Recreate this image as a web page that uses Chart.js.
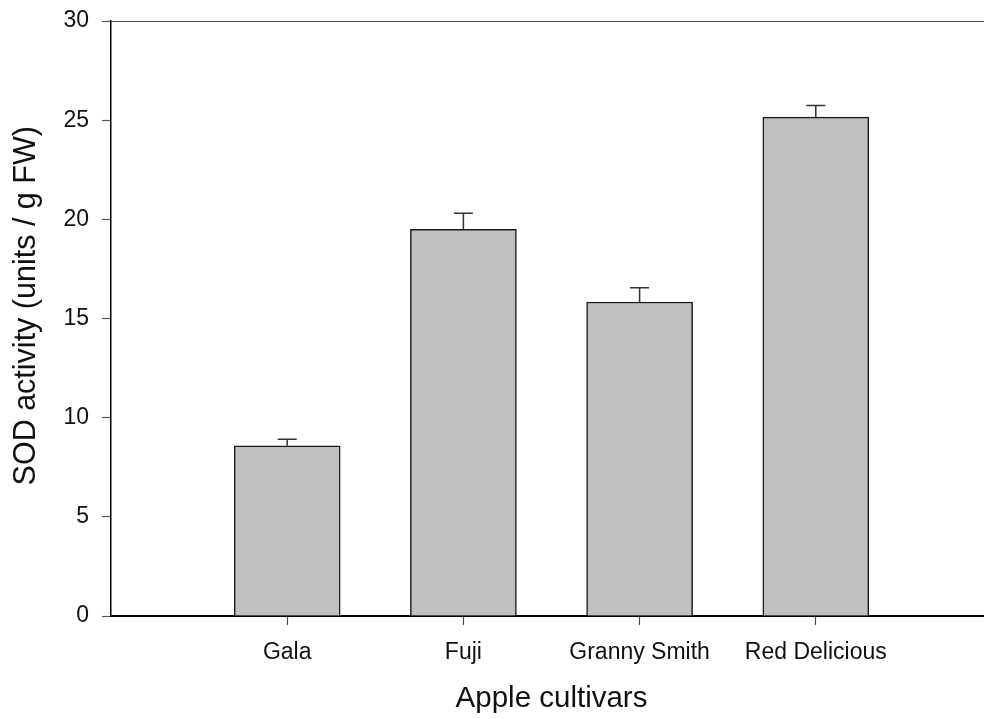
<!DOCTYPE html>
<html>
<head>
<meta charset="utf-8">
<title>SOD activity</title>
<script src="https://cdn.jsdelivr.net/npm/chart.js@4.4.1/dist/chart.umd.min.js"></script>
<style>
    html, body { margin: 0; padding: 0; background: #fff; overflow: hidden; }
    #wrap { position: absolute; left: 0; top: 0; width: 1000px; height: 719px; }
</style>
</head>
<body>
<div id="wrap"><canvas id="sodChart" width="1000" height="719"></canvas></div>
<script>
const cultivars = ["Gala", "Fuji", "Granny Smith", "Red Delicious"];
const sodActivity = [8.58, 19.49, 15.83, 25.15];
const sodError = [0.33, 0.82, 0.72, 0.59];
const yTicks = [0, 5, 10, 15, 20, 25, 30];

document.addEventListener("DOMContentLoaded", function () {
    const ctx = document.getElementById("sodChart").getContext("2d");

    // empty slot on each side so the bars sit at 1..4 on a 0..5 axis
    const labels = ["", ...cultivars, ""];
    const values = [null, ...sodActivity, null];
    const errors = [null, ...sodError, null];

    const errorBars = {
        id: "errorBars",
        afterDatasetsDraw(chart) {
            const meta = chart.getDatasetMeta(0);
            const yScale = chart.scales.y;
            const c = chart.ctx;
            c.save();
            c.strokeStyle = "#333";
            c.lineWidth = 1.5;
            meta.data.forEach((bar, i) => {
                if (values[i] == null) return;
                const yTop = yScale.getPixelForValue(values[i] + errors[i]);
                c.beginPath();
                c.moveTo(bar.x, bar.y);
                c.lineTo(bar.x, yTop);
                c.moveTo(bar.x - 9.5, yTop);
                c.lineTo(bar.x + 9.5, yTop);
                c.stroke();
            });
            c.restore();
        },
    };

    const hideEdgeTicks = (c) =>
        c.index === 0 || c.index === labels.length - 1 ? "rgba(0,0,0,0)" : "#444";

    const fontFamily = "'Liberation Sans', Arial, sans-serif";

    new Chart(ctx, {
        type: "bar",
        data: {
            labels: labels,
            datasets: [
                {
                    data: values,
                    backgroundColor: "#c0c0c0",
                    borderColor: "#1a1a1a",
                    borderWidth: 1.5,
                    barThickness: 106,
                },
            ],
        },
        options: {
            responsive: false,
            animation: false,
            devicePixelRatio: 1,
            layout: { padding: { left: 0, right: 8, top: 0, bottom: 0 } },
            plugins: {
                legend: { display: false },
                tooltip: { enabled: false },
            },
            scales: {
                x: {
                    type: "category",
                    position: "bottom",
                    offset: false,
                    grid: {
                        offset: false,
                        drawOnChartArea: false,
                        tickLength: 9,
                        tickColor: hideEdgeTicks,
                        tickWidth: 1.2,
                    },
                    border: { display: true, color: "#000", width: 2 },
                    ticks: {
                        autoSkip: false,
                        maxRotation: 0,
                        padding: 14,
                        color: "#111",
                        font: { family: fontFamily, size: 23 },
                    },
                    title: {
                        display: true,
                        text: "Apple cultivars",
                        color: "#111",
                        padding: { top: 0, bottom: 2 },
                        font: { family: fontFamily, size: 29.5 },
                    },
                    afterFit: (scale) => {
                        scale.height = 103;
                        scale.paddingLeft = 0;
                        scale.paddingRight = 0;
                    },
                },
                x2: {
                    type: "category",
                    position: "top",
                    labels: labels,
                    offset: false,
                    grid: { display: false, drawTicks: false },
                    border: { display: true, color: "#555", width: 1 },
                    ticks: { display: false },
                    afterFit: (scale) => { scale.height = 21; },
                },
                y: {
                    min: 0,
                    max: 30,
                    afterBuildTicks: (scale) => {
                        scale.ticks = yTicks.map((v) => ({ value: v }));
                    },
                    grid: {
                        drawOnChartArea: false,
                        tickLength: 9,
                        tickColor: "#555",
                        tickWidth: 1.2,
                    },
                    border: { display: true, color: "#000", width: 1.5 },
                    ticks: {
                        padding: 13,
                        color: "#111",
                        font: { family: fontFamily, size: 23 },
                    },
                    title: {
                        display: true,
                        // leading spaces nudge the title a bit above centre, like the original
                        text: "   SOD activity (units / g FW)",
                        color: "#111",
                        padding: { top: 8, bottom: 0 },
                        font: { family: fontFamily, size: 30.5 },
                    },
                    afterFit: (scale) => {
                        scale.width = 111;
                        scale.paddingTop = 0;
                        scale.paddingBottom = 0;
                    },
                },
            },
        },
        plugins: [errorBars],
    });
});
</script>
</body>
</html>
